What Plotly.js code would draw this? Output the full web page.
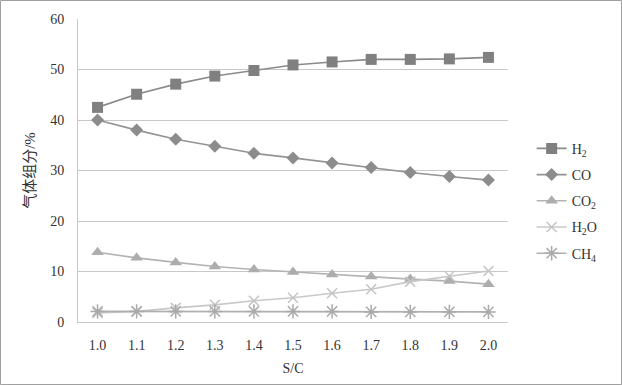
<!DOCTYPE html>
<html>
<head>
<meta charset="utf-8">
<script src="https://cdn.plot.ly/plotly-3.0.1.min.js"></script>
<style>html,body{margin:0;padding:0;background:#fff;}#chart{width:622px;height:386px;}</style>
</head>
<body>
<div id="chart"></div>
<script>
const categories = ["1.0","1.1","1.2","1.3","1.4","1.5","1.6","1.7","1.8","1.9","2.0"];
const h2  = [42.5, 45.1, 47.1, 48.7, 49.8, 50.9, 51.5, 52.0, 52.0, 52.1, 52.4];
const co  = [40.0, 38.0, 36.2, 34.8, 33.4, 32.5, 31.5, 30.6, 29.6, 28.8, 28.1];
const co2 = [13.8, 12.7, 11.8, 11.0, 10.4, 9.9, 9.4, 9.0, 8.5, 8.1, 7.5];
const h2o = [1.8, 2.1, 2.8, 3.4, 4.2, 4.8, 5.7, 6.5, 8.0, 9.1, 10.1];
const ch4 = [2.1, 2.1, 2.1, 2.1, 2.1, 2.1, 2.1, 2.0, 2.0, 2.0, 2.0];
const seriesNames = ["H<sub>2</sub>", "CO", "CO<sub>2</sub>", "H<sub>2</sub>O", "CH<sub>4</sub>"];
const yTicks = [0, 10, 20, 30, 40, 50, 60];

const W = 622, H = 386;
const M = {l: 78, r: 114, t: 19, b: 64};
const pw = W - M.l - M.r, ph = H - M.t - M.b;

const styles = [
  {color: '#808080', symbol: 'square', size: 11, lw: 1.6, lc: '#8a8a8a'},
  {color: '#8c8c8c', symbol: 'diamond', size: 10, lw: 1.6, lc: '#939393'},
  {color: '#adadad', symbol: 'triangle-up', size: 11, lw: 1.6, lc: '#b3b3b3'},
  {color: '#c4c4c4', symbol: 'x-thin-open', size: 10, lw: 1.6, lc: '#c8c8c8'},
  {color: '#aaaaaa', symbol: 'asterisk-open', size: 12, lw: 1.6, lc: '#b0b0b0'}
];
const data = [h2, co, co2, h2o, ch4].map((ys, i) => ({
  x: categories, y: ys, name: seriesNames[i], type: 'scatter', mode: 'lines+markers',
  legendgroup: 'g' + i,
  line: {color: styles[i].lc, width: styles[i].lw},
  marker: {color: styles[i].color, symbol: styles[i].symbol, size: styles[i].size,
           line: {color: styles[i].color, width: (i >= 3 ? 1.5 : 0)}}
}));

const layout = {
  width: W, height: H,
  margin: M,
  paper_bgcolor: '#fff', plot_bgcolor: '#fff',
  font: {family: '"Liberation Serif", "Noto Sans CJK SC", serif', size: 14, color: '#333'},
  showlegend: true,
  legend: {x: 1.055, y: 0.40, xanchor: 'left', yanchor: 'middle', tracegroupgap: 5,
           font: {size: 14, color: '#333'}, bgcolor: 'rgba(0,0,0,0)'},
  xaxis: {type: 'category', range: [-0.5, 10.5], showgrid: false, zeroline: false,
          showline: true, linecolor: '#c8c8c8', linewidth: 1, ticks: '',
          ticklabelstandoff: 10,
          title: {text: 'S/C', standoff: 11, font: {size: 14}}},
  yaxis: {range: [0, 60], tickvals: yTicks, showgrid: true, gridcolor: '#c8c8c8', gridwidth: 1,
          zeroline: false, showline: true, linecolor: '#c8c8c8', linewidth: 1, ticks: '',
          ticklabelstandoff: 10,
          title: {text: '气体组分/%', standoff: 10, font: {size: 15}}},
  shapes: [{type: 'rect', xref: 'paper', yref: 'paper',
            x0: (0.5 - M.l) / pw, x1: (W - 0.5 - M.l) / pw,
            y0: -(M.b - 1.5) / ph, y1: 1 + (M.t - 0.5) / ph,
            line: {color: '#a0a0a0', width: 1}, layer: 'below'}]
};
Plotly.newPlot('chart', data, layout, {staticPlot: true, displayModeBar: false});
</script>
</body>
</html>
